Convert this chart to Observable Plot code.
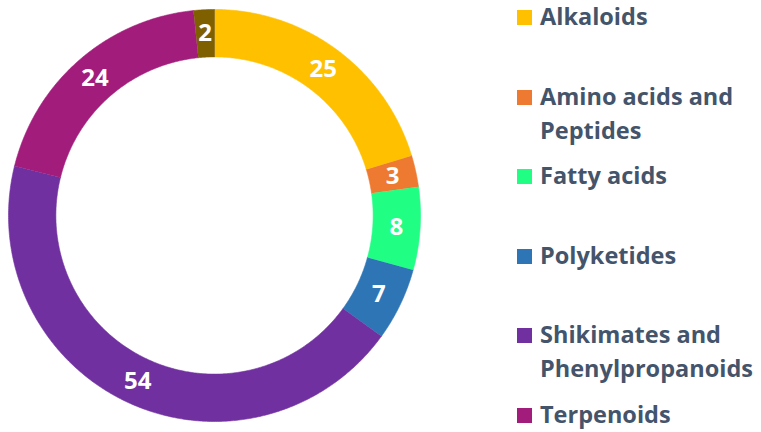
<!DOCTYPE html>
<html><head><meta charset="utf-8">
<script src="https://cdn.jsdelivr.net/npm/d3@7"></script>
<script src="https://cdn.jsdelivr.net/npm/@observablehq/plot@0.6"></script>
<style>
body{margin:0;background:#fff;font-family:"Open Sans",sans-serif;}
#wrap{position:relative;width:761px;height:432px;overflow:hidden;background:#fff}
#chart{position:absolute;left:0;top:0}
#legend{position:absolute;left:517px;top:0;width:244px;height:432px}
.item{position:absolute;left:0;display:flex;align-items:flex-start}
.sw{width:15px;height:15px;margin-top:10px;flex:none}
.lab{margin-left:8px;font-size:23.5px;font-weight:700;color:#44546A;line-height:34px;white-space:nowrap;margin-top:-1px}
</style>
</head><body>
<div id="wrap"><div id="chart"></div><div id="legend"></div></div>
<script>
const categories = ["Alkaloids","Amino acids and Peptides","Fatty acids","Polyketides","Shikimates and Phenylpropanoids","Terpenoids","Other"];
const values = [25,3,8,7,54,24,2];
const colors = ["#FFC000","#EE7A32","#20FF84","#2E75B6","#7030A0","#A21C7B","#7F6000"];
const legendLines = [["Alkaloids"],["Amino acids and","Peptides"],["Fatty acids"],["Polyketides"],["Shikimates and","Phenylpropanoids"],["Terpenoids"]];

const rows = categories.map((c,i)=>({category:c, value:values[i], color:colors[i]}));
const arcs = d3.pie().sort(null).value(d=>d.value)(rows);
const rOuter = 1, rInner = 0.77, rLabel = (rOuter+rInner)/2;
const pts = [];
arcs.forEach(a=>{
  const n = Math.max(2, Math.ceil((a.endAngle-a.startAngle)/(Math.PI/360)));
  for(let k=0;k<=n;k++){const t=a.startAngle+(a.endAngle-a.startAngle)*k/n; pts.push({key:a.data.category,color:a.data.color,x:rOuter*Math.sin(t),y:-rOuter*Math.cos(t)});}
  for(let k=n;k>=0;k--){const t=a.startAngle+(a.endAngle-a.startAngle)*k/n; pts.push({key:a.data.category,color:a.data.color,x:rInner*Math.sin(t),y:-rInner*Math.cos(t)});}
});
const labels = arcs.map(a=>{const m=(a.startAngle+a.endAngle)/2; return {x:rLabel*Math.sin(m), y:-rLabel*Math.cos(m), text:String(a.data.value)};});

const plot = Plot.plot({
  width:761, height:432, margin:0,
  x:{domain:[-1,1], range:[8,420], axis:null},
  y:{domain:[-1,1], range:[9,421], axis:null},
  color:{type:"identity"},
  marks:[
    Plot.line(pts,{x:"x",y:"y",z:"key",fill:"color",stroke:"color",strokeWidth:0.6}),
    Plot.text(labels,{x:"x",y:"y",text:"text",fill:"white",fontSize:24,fontWeight:"bold",fontFamily:"Open Sans"})
  ]
});
document.getElementById("chart").appendChild(plot);

const leg = document.getElementById("legend");
legendLines.forEach((lines,i)=>{
  const it=document.createElement("div"); it.className="item"; it.style.top=(i*79.6)+"px";
  const sw=document.createElement("div"); sw.className="sw"; sw.style.background=colors[i];
  const lb=document.createElement("div"); lb.className="lab"; lb.innerHTML=lines.join("<br>");
  it.appendChild(sw); it.appendChild(lb); leg.appendChild(it);
});
</script>
</body></html>
